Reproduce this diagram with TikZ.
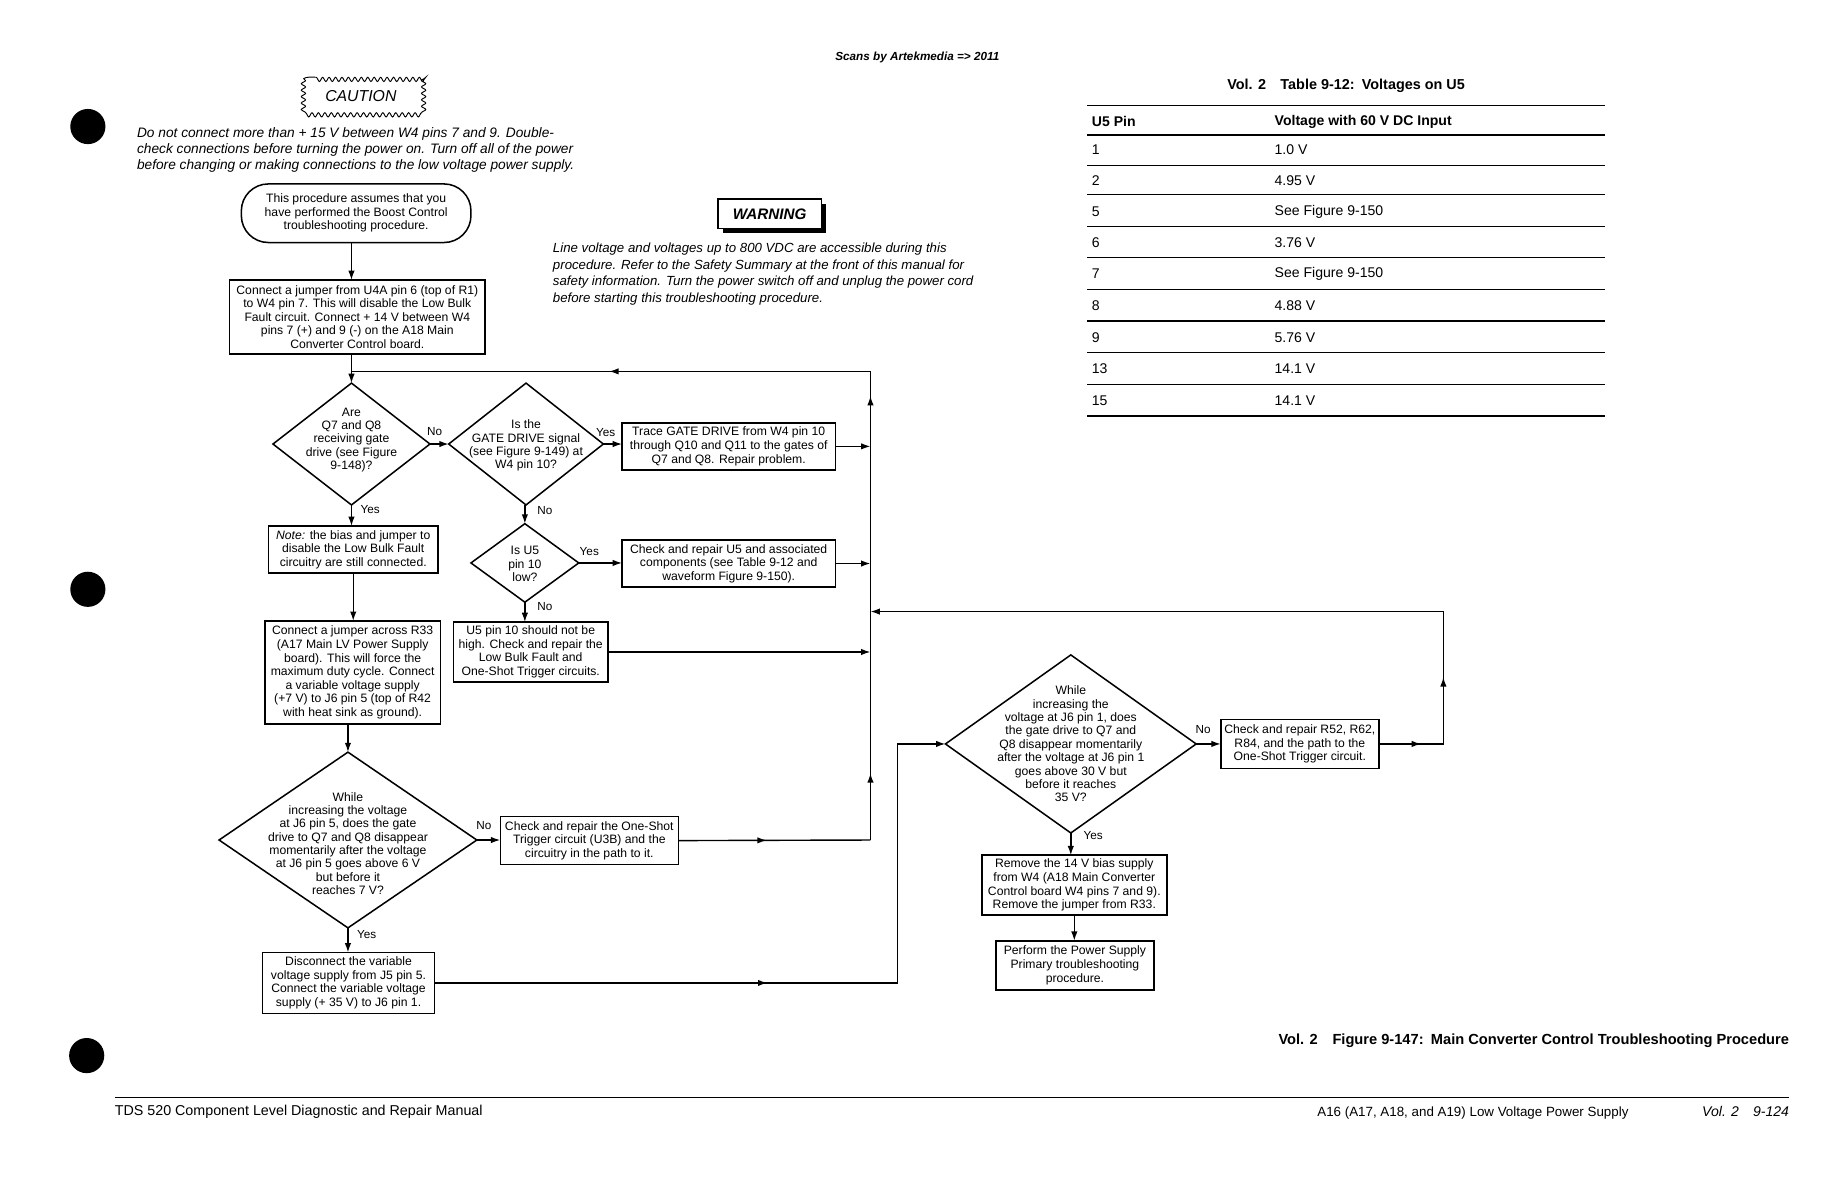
\documentclass[tikz,border=0pt]{standalone}
\usepackage{fontspec}
\setmainfont{Liberation Sans}
\usetikzlibrary{arrows.meta,shapes.geometric,decorations.pathmorphing,decorations.markings}
\begin{document}
\begin{tikzpicture}[x=1pt,y=-1pt,
  >={Latex[length=8pt,width=5.5pt]},
  every node/.style={inner sep=0pt, outer sep=0pt},
  box/.style={draw, line width=1.3pt, align=center, font=\fontsize{10.4}{11.6}\selectfont},
  dia/.style={draw, diamond, line width=1.3pt, inner sep=0pt},
  dtext/.style={align=center, font=\fontsize{10.4}{11.4}\selectfont},
  lab/.style={font=\fontsize{10}{11}\selectfont},
  conn/.style={line width=1.2pt},
  arr/.style={conn, ->},
  para/.style={align=left, font=\itshape\fontsize{11.7}{14}\selectfont},
  tab/.style={font=\fontsize{12}{14}\selectfont, anchor=west},
  tabh/.style={font=\bfseries\fontsize{12}{14}\selectfont, anchor=west},
  rule/.style={line width=0.9pt},
  thickrule/.style={line width=1.8pt}
]
\useasboundingbox (0,0) rectangle (1568,1015);
\fill[white] (0,0) rectangle (1568,1015);

% punch holes
\fill (75,108) circle[radius=15];
\fill (75,503) circle[radius=15];
\fill (74,901) circle[radius=15];

% header
\node[font=\bfseries\itshape\fontsize{10}{12}\selectfont] (scans) at (783,49) {Scans by Artekmedia => 2011};

% caution
\draw[line width=0.8pt, decorate, decoration={snake, amplitude=1.8pt, segment length=5.5pt}] (259,67) rectangle (357,96);
\node[font=\itshape\fontsize{13.5}{15}\selectfont] (caution) at (308,82) {CAUTION};
\node[para, anchor=west] (cautiontext) at (117,128) {Do not connect more than + 15 V between W4 pins 7 and 9. Double-\\check connections before turning the power on. Turn off all of the power\\before changing or making  connections to the low voltage power supply.};

% warning
\fill (617,174) rectangle (705,199);
\node[draw, fill=white, line width=1.3pt, minimum width=88pt, minimum height=25pt, font=\bfseries\itshape\fontsize{13}{15}\selectfont] (warn) at (657,182.5) {WARNING};
\node[para, anchor=west, font=\itshape\fontsize{11.3}{14}\selectfont] (warntext) at (472,234) {Line voltage and voltages up to 800 VDC are accessible during this\\procedure. Refer to the Safety Summary at the front of this manual for\\safety information. Turn the power switch off and unplug the power cord\\before starting this troubleshooting procedure.};

% flowchart nodes
\node[draw, line width=1.3pt, rounded corners=23pt, minimum width=196pt, minimum height=50pt, align=center, font=\fontsize{10.4}{11.6}\selectfont] (start) at (304,182) {This procedure assumes that you\\have performed the Boost Control\\troubleshooting procedure.};

\node[box, minimum width=218pt, minimum height=63pt] (b1) at (305,270.5) {Connect a jumper from U4A pin 6 (top of R1)\\to W4 pin 7. This will disable the Low Bulk\\Fault circuit. Connect + 14 V between W4\\pins 7 (+) and 9 (-) on the A18 Main\\Converter Control board.};

\node[dia, minimum width=134pt, minimum height=104pt] (d1) at (300,379) {};
\node[dtext] (d1t) at (300,375.5) {Are\\Q7 and Q8\\receiving gate\\drive (see Figure\\9-148)?};

\node[dia, minimum width=132pt, minimum height=104pt] (d2) at (449,379) {};
\node[dtext] (d2t) at (449,380.5) {Is the\\GATE DRIVE signal\\(see Figure 9-149) at\\W4 pin 10?};

\node[box, minimum width=182pt, minimum height=40pt] (trace) at (622,381) {Trace GATE DRIVE from W4 pin 10\\through Q10 and Q11 to the gates of\\Q7 and Q8. Repair problem.};

\node[box, minimum width=145pt, minimum height=40pt] (note) at (301.5,469) {\textit{Note:} the bias and jumper to\\disable the Low Bulk Fault\\circuitry are still connected.};

\node[dia, minimum width=92pt, minimum height=67pt] (d3) at (448,480.5) {};
\node[dtext] (d3t) at (448,481.5) {Is U5\\pin 10\\low?};

\node[box, minimum width=182pt, minimum height=40pt] (chk) at (622,481) {Check and repair U5 and associated\\components (see Table 9-12 and\\waveform Figure 9-150).};

\node[box, minimum width=132pt, minimum height=51pt] (u5) at (453,556.5) {U5 pin 10 should not be\\high. Check and repair the\\Low Bulk Fault and\\One-Shot Trigger circuits.};

\node[box, minimum width=150pt, minimum height=88pt] (b3) at (301,574) {Connect a jumper across R33\\(A17 Main LV Power Supply\\board). This will force the\\maximum duty cycle. Connect\\a variable voltage supply\\(+7 V) to J6 pin 5 (top of R42\\with heat sink as ground).};

\node[dia, minimum width=220pt, minimum height=150pt] (d4) at (297,717) {};
\node[dtext] (d4t) at (297,720) {While\\increasing the voltage\\at J6 pin 5, does the gate\\drive to Q7 and Q8 disappear\\momentarily after the voltage\\at J6 pin 5 goes above 6 V\\but before it\\reaches 7 V?};

\node[box, minimum width=152pt, minimum height=41pt] (os) at (503,717.5) {Check and repair the One-Shot\\Trigger circuit (U3B) and the\\circuitry in the path to it.};

\node[box, minimum width=147pt, minimum height=52pt] (dis) at (297.5,839) {Disconnect the variable\\voltage supply from J5 pin 5.\\Connect the variable voltage\\supply (+ 35 V) to J6 pin 1.};

\node[dia, minimum width=214pt, minimum height=152pt] (d5) at (914,635) {};
\node[dtext] (d5t) at (914,635) {While\\increasing the\\voltage at J6 pin 1, does\\the gate drive to Q7 and\\Q8 disappear momentarily\\after the voltage at J6 pin 1\\goes above 30 V but\\before it reaches\\35 V?};

\node[box, minimum width=135pt, minimum height=42pt] (r52) at (1109.5,635) {Check and repair R52, R62,\\R84, and the path to the\\One-Shot Trigger circuit.};

\node[box, minimum width=158pt, minimum height=51pt] (rem) at (917,755.5) {Remove the 14 V bias supply\\from W4 (A18 Main Converter\\Control board W4 pins 7 and 9).\\Remove the jumper from R33.};

\node[box, minimum width=135pt, minimum height=42pt] (per) at (917.5,824) {Perform the Power Supply\\Primary troubleshooting\\procedure.};

% bus coordinates
\coordinate (busT) at (743,317);
\coordinate (busB) at (743,717);
\coordinate (r2) at (766,635);
\coordinate (q1) at (1232,635);
\coordinate (q2) at (1232,522);
\coordinate (q3) at (743,522);

% connectors
\draw[arr] (start.south -| d1.north) -- (b1.north -| d1.north);
\draw[arr] (b1.south -| d1.north) -- (d1.north);
\draw[conn, postaction={decorate}, decoration={markings,
   mark=at position 57pt with {\arrow{>}},
   mark=at position 379pt with {\arrow{>}},
   mark=at position 623pt with {\arrow{>}}}]
   (busB) -- (busT) -- (d1.north |- busT);
\draw[arr] (d1.east) -- (d2.west);
\draw[arr] (d2.east) -- (d2.east -| trace.west);
\draw[arr] (trace.east) -- (trace.east -| busT);
\draw[arr] (d1.south) -- (d1.south |- note.north);
\draw[arr] (note.south) -- (note.south |- b3.north);
\draw[arr] (d3.north |- d2.south) -- (d3.north);
\draw[arr] (d3.east) -- (d3.east -| chk.west);
\draw[arr] (chk.east) -- (chk.east -| busT);
\draw[arr] (d3.south) -- (d3.south |- u5.north);
\draw[arr] (u5.east) -- (u5.east -| busT);
\draw[arr] (b3.south -| d4.north) -- (d4.north);
\draw[arr] (d4.east) -- (d4.east -| os.west);
\draw[conn, postaction={decorate}, decoration={markings, mark=at position 0.46 with {\arrow{>}}}] (os.east) -- (busB);
\draw[arr] (d4.south) -- (d4.south |- dis.north);
\draw[arr, postaction={decorate}, decoration={markings, mark=at position 284pt with {\arrow{>}}}] (dis.east) -| (r2) -- (d5.west);
\draw[arr] (d5.east) -- (r52.west);
\draw[arr, postaction={decorate}, decoration={markings,
   mark=at position 36pt with {\arrow{>}},
   mark=at position 112pt with {\arrow{>}}}] (r52.east) -- (q1) -- (q2) -- (q3);
\draw[arr] (d5.south) -- (d5.south |- rem.north);
\draw[arr] (rem.south) -- (rem.south |- per.north);

% labels
\node[lab] (l1) at (371,368) {No};
\node[lab] (l2) at (517,369) {Yes};
\node[lab] (l3) at (316,435) {Yes};
\node[lab] (l4) at (465,436) {No};
\node[lab] (l5) at (503,471) {Yes};
\node[lab] (l6) at (465,518) {No};
\node[lab] (l7) at (413,705) {No};
\node[lab] (l8) at (313,798) {Yes};
\node[lab] (l9) at (1027,623) {No};
\node[lab] (l10) at (933,713) {Yes};

% table
\node[font=\bfseries\fontsize{12.3}{14}\selectfont] (ttitle) at (1149,73) {Vol. 2\quad Table 9-12:\enspace Voltages on U5};
\draw[rule] (928,90) -- (1370,90);
\node[tabh] (h1) at (932,104) {U5 Pin};
\node[tabh] (h2) at (1088,104) {Voltage with 60 V DC Input};
\draw[thickrule] (928,115) -- (1370,115);
\foreach \y/\a/\b [count=\i] in {128/1/1.0 V, 154/2/4.95 V, 181/5/See Figure 9-150, 207/6/3.76 V, 234/7/See Figure 9-150, 261/8/4.88 V, 288/9/5.76 V, 315/13/14.1 V, 342/15/14.1 V}{
  \node[tab] (ca\i) at (932,\y) {\a};
  \node[tab] (cb\i) at (1088,\y) {\b};
}
\foreach \y in {141,166,193,220,247,274,301,328}{
  \draw[rule] (928,\y) -- (1370,\y);
}
\draw[thickrule] (928,355) -- (1370,355);

% caption and footer
\node[anchor=east, font=\bfseries\fontsize{12.5}{14}\selectfont] (caption) at (1527,888) {Vol. 2\quad Figure 9-147:\enspace Main Converter Control Troubleshooting Procedure};
\draw[line width=1.2pt] (98,937) -- (1527,937);
\node[anchor=west, font=\fontsize{12.2}{14}\selectfont] (foot1) at (98,949) {TDS 520 Component Level Diagnostic and Repair Manual};
\node[anchor=east, font=\fontsize{11.4}{14}\selectfont] (foot2) at (1390,950) {A16 (A17, A18, and A19) Low Voltage Power Supply};
\node[anchor=east, font=\itshape\fontsize{12}{14}\selectfont] (foot3) at (1527,949) {Vol. 2\quad 9-124};
\end{tikzpicture}
\end{document}
